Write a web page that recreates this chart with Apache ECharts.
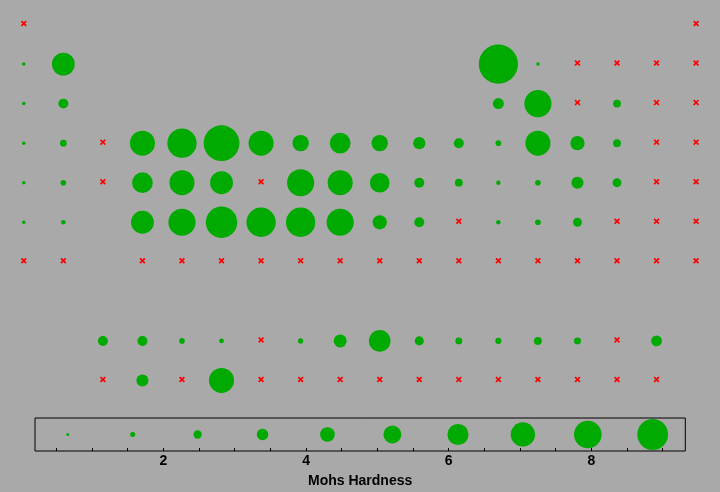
<!DOCTYPE html>
<html>
<head>
<meta charset="utf-8">
<script src="https://cdn.jsdelivr.net/npm/echarts@6/dist/echarts.min.js"></script>
<style>html,body{margin:0;padding:0;background:#a9a9a9;}#c{width:720px;height:492px;}</style>
</head>
<body>
<div id="c"></div>
<script>
// Element symbols in atomic-number order
const elementSymbols = ["H","He","Li","Be","B","C","N","O","F","Ne","Na","Mg","Al","Si","P","S","Cl","Ar",
  "K","Ca","Sc","Ti","V","Cr","Mn","Fe","Co","Ni","Cu","Zn","Ga","Ge","As","Se","Br","Kr",
  "Rb","Sr","Y","Zr","Nb","Mo","Tc","Ru","Rh","Pd","Ag","Cd","In","Sn","Sb","Te","I","Xe",
  "Cs","Ba","La","Ce","Pr","Nd","Pm","Sm","Eu","Gd","Tb","Dy","Ho","Er","Tm","Yb","Lu",
  "Hf","Ta","W","Re","Os","Ir","Pt","Au","Hg","Tl","Pb","Bi","Po","At","Rn",
  "Fr","Ra","Ac","Th","Pa","U","Np","Pu","Am","Cm","Bk","Cf","Es","Fm","Md","No","Lr",
  "Rf","Db","Sg","Bh","Hs","Mt","Ds","Rg","Cn","Nh","Fl","Mc","Lv","Ts","Og"];

// Mohs hardness (null = missing, drawn as red cross)
const hardness = [null,null,0.6,5.5,9.3,0.5,null,null,null,null,
  0.5,2.5,2.75,6.5,null,2,null,null,
  0.4,1.75,null,6,7,8.5,6,4,5,4,3,2.5,1.5,6,3.5,2,null,null,
  0.3,1.5,null,5,6,5.5,null,6.5,6,4.75,2.5,2,1.2,1.5,3,2.25,null,null,
  0.2,1.25,2.5,2.5,1.5,1.3,null,1.4,3.2,5.2,2.3,1.8,1.6,2,1.8,null,2.7,
  5.5,6.5,7.5,7,7,6.5,3.5,2.5,null,1.2,1.5,2.25,null,null,null,
  null,null,null,3,null,6,null,null,null,null,null,null,null,null,null,null,null,
  null,null,null,null,null,null,null,null,null,null,null,null,null,null,null];

// Legend scale bubbles (positions on the Mohs Hardness axis)
const legendValues = [0.66,1.57,2.48,3.39,4.30,5.21,6.13,7.04,7.95,8.86];
const tickValues = [0.5,1,1.5,2,2.5,3,3.5,4,4.5,5,5.5,6,6.5,7,7.5,8,8.5,9];
const labelValues = [2,4,6,8];

// periodic-table layout (group, period-row) from atomic number
function place(z){
  if (z===1) return [1,1];
  if (z===2) return [18,1];
  if (z<=4) return [z-2,2];
  if (z<=10) return [z+8,2];
  if (z<=12) return [z-10,3];
  if (z<=18) return [z,3];
  if (z<=36) return [z-18,4];
  if (z<=54) return [z-36,5];
  if (z<=56) return [z-54,6];
  if (z<=71) return [z-54,9];
  if (z<=86) return [z-68,6];
  if (z<=88) return [z-86,7];
  if (z<=103) return [z-86,10];
  return [z-100,7];
}

const present = [], missing = [];
elementSymbols.forEach((s,i)=>{
  const p = place(i+1);
  const h = hardness[i];
  if (h==null) missing.push({name:s, value:[p[0],p[1]]});
  else present.push({name:s, value:[p[0],p[1],h]});
});

const GREEN = '#00aa00';
const crossPath = 'path://M0,2L2,0L5,3L8,0L10,2L7,5L10,8L8,10L5,7L2,10L0,8L3,5Z';
const FONT = '"Liberation Sans", Arial, sans-serif';

const chart = echarts.init(document.getElementById('c'), null, {renderer:'canvas'});
chart.setOption({
  backgroundColor:'#a9a9a9',
  animation:false,
  grid:[
    {left:23.8, width:672.3, top:24.5, height:355.95, show:false},
    {left:35, width:650.3, top:418, height:33, show:true, borderColor:'#000', borderWidth:1, backgroundColor:'transparent'}
  ],
  xAxis:[
    {gridIndex:0, type:'value', min:1, max:18, show:false},
    {gridIndex:1, type:'value', min:0.2, max:9.317, position:'bottom',
      axisLine:{show:false}, splitLine:{show:false},
      axisTick:{show:true, inside:true, length:3, lineStyle:{color:'#000', width:1}, customValues:tickValues},
      axisLabel:{show:true, margin:3, color:'#000', fontSize:14, fontWeight:'bold', fontFamily:FONT, customValues:labelValues},
      name:'Mohs Hardness', nameLocation:'middle', nameGap:23,
      nameTextStyle:{color:'#000', fontSize:14, fontWeight:'bold', fontFamily:FONT}
    }
  ],
  yAxis:[
    {gridIndex:0, type:'value', min:1, max:10, inverse:true, show:false},
    {gridIndex:1, type:'value', min:0, max:1, show:false}
  ],
  series:[
    {type:'scatter', xAxisIndex:0, yAxisIndex:0, clip:false, data:present,
      symbol:'circle',
      symbolSize:(v)=>Math.max(3.5, 4.3*v[2]-0.8),
      itemStyle:{color:GREEN, opacity:1}},
    {type:'scatter', xAxisIndex:0, yAxisIndex:0, clip:false, data:missing,
      symbol:crossPath, symbolSize:6, symbolOffset:[0,-1],
      itemStyle:{color:'#ff0000', opacity:1}},
    {type:'scatter', xAxisIndex:1, yAxisIndex:1, clip:false,
      data:legendValues.map(v=>[v,0.5]),
      symbol:'circle',
      symbolSize:(v)=>Math.max(3, 3.53*v[0]-0.5),
      itemStyle:{color:GREEN, opacity:1}}
  ]
});
</script>
</body>
</html>
